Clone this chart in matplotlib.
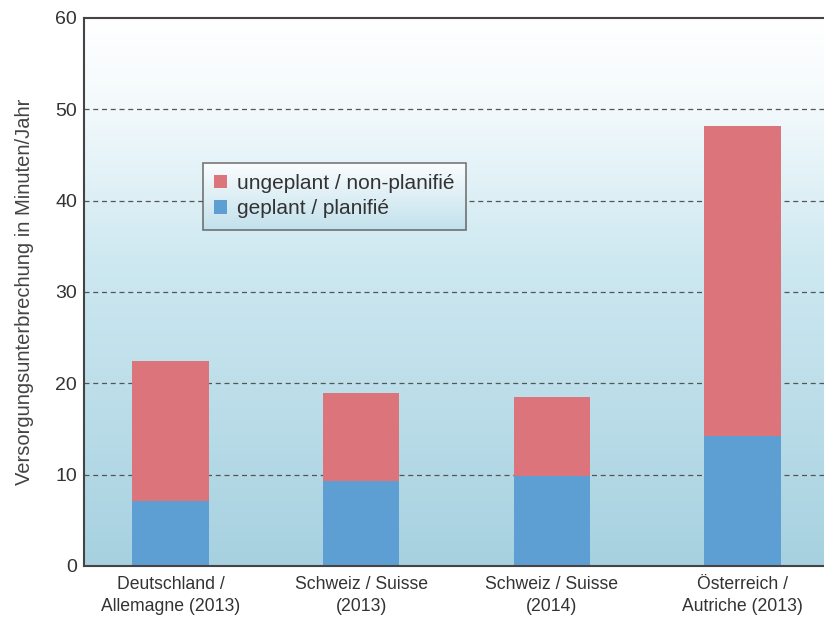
import matplotlib
matplotlib.use("Agg")
import matplotlib.pyplot as plt
import numpy as np
from matplotlib.colors import LinearSegmentedColormap

categories = ["Deutschland /\nAllemagne (2013)", "Schweiz / Suisse\n(2013)",
              "Schweiz / Suisse\n(2014)", "Österreich /\nAutriche (2013)"]
geplant = [7.1, 9.3, 9.9, 14.2]
ungeplant_total = [22.4, 18.9, 18.5, 48.2]
ungeplant = [t - g for t, g in zip(ungeplant_total, geplant)]
yticks = [0, 10, 20, 30, 40, 50, 60]

red = "#dc757b"
blue = "#5e9fd3"

plt.rcParams['font.family'] = ['Liberation Sans', 'DejaVu Sans']

fig = plt.figure(figsize=(8.24, 6.3), dpi=100)
ax = fig.add_axes([84 / 824, 1 - 566 / 630, 1 - 84 / 824 + 0.01, (566 - 18) / 630])

# background gradient, white at top to light blue at bottom
bg = LinearSegmentedColormap.from_list("bg", [(0, "#a7d1e0"), (0.55, "#cde8f1"), (0.85, "#f4fafc"), (1, "#ffffff")])
grad = np.linspace(0, 1, 256).reshape(-1, 1)
ax.imshow(grad, cmap=bg, aspect="auto", origin="lower", extent=(0, 1, 0, 1),
          transform=ax.transAxes, zorder=0)

x = np.arange(len(categories))
ax.bar(x, geplant, width=0.4, color=blue, zorder=3, label="geplant / planifié")
ax.bar(x, ungeplant, width=0.4, bottom=geplant, color=red, zorder=3,
       label="ungeplant / non-planifié")

for v in yticks[1:-1]:
    ax.axhline(v, color="#555555", lw=0.9, ls=(0, (4, 3)), zorder=1)

ax.set_xlim(-0.453, 3.47)
ax.set_ylim(0, 60)
ax.set_yticks(yticks)
ax.set_xticks(x)
ax.set_xticklabels(categories, fontsize=12.7, color="#333333", linespacing=1.4)
ax.tick_params(axis="both", length=0, colors="#333333")
ax.tick_params(axis="y", pad=5, labelsize=14)
ax.tick_params(axis="x", pad=7)
ax.set_ylabel("Versorgungsunterbrechung in Minuten/Jahr", fontsize=14.5, color="#444444", labelpad=15)

for s in ["left", "bottom", "top"]:
    ax.spines[s].set_color("#444444")
    ax.spines[s].set_linewidth(1.5)
    ax.spines[s].set_zorder(4)
ax.spines["right"].set_visible(False)

handles, labels = ax.get_legend_handles_labels()
leg = ax.legend(handles[::-1], labels[::-1], loc="upper left", bbox_to_anchor=(0.159, 0.736),
                fontsize=15, frameon=True, fancybox=False, edgecolor="#555555",
                facecolor="none", handlelength=0.6, handleheight=0.6, handletextpad=0.5,
                labelspacing=0.3, borderpad=0.55, borderaxespad=0)
leg.get_frame().set_linewidth(1.2)
leg.set_zorder(6)
for t in leg.get_texts():
    t.set_color("#333333")

# gradient behind the legend box
fig.canvas.draw()
bb = leg.get_window_extent().transformed(ax.transAxes.inverted())
lg = LinearSegmentedColormap.from_list("lg", [(0, "#c2e1ec"), (1, "#fbfdfe")])
ax.imshow(grad, cmap=lg, aspect="auto", origin="lower",
          extent=(bb.x0, bb.x1, bb.y0, bb.y1), transform=ax.transAxes, zorder=5)
ax.set_xlim(-0.453, 3.47)
ax.set_ylim(0, 60)

fig.savefig("out.png", dpi=100)
